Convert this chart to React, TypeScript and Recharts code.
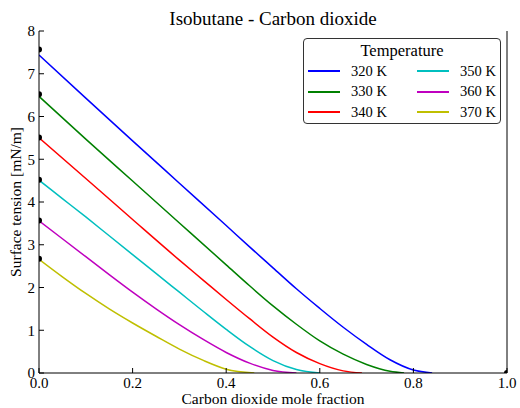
import {
  ComposedChart,
  Line,
  Scatter,
  XAxis,
  YAxis,
  Legend,
} from 'recharts'

// mole fraction of CO2 / surface tension [mN/m]
const x320 = [0, 0.1, 0.2, 0.3, 0.4, 0.45, 0.5, 0.55, 0.6, 0.65, 0.7, 0.75, 0.8, 0.84]
const t320 = [7.44, 6.43, 5.43, 4.44, 3.45, 2.95, 2.46, 1.97, 1.51, 1.07, 0.67, 0.31, 0.07, 0]

const x330 = [0, 0.1, 0.2, 0.3, 0.4, 0.45, 0.5, 0.55, 0.6, 0.65, 0.7, 0.75, 0.78]
const t330 = [6.47, 5.47, 4.49, 3.51, 2.53, 2.04, 1.57, 1.14, 0.75, 0.44, 0.2, 0.04, 0]

const x340 = [0, 0.1, 0.2, 0.3, 0.35, 0.4, 0.45, 0.5, 0.55, 0.6, 0.65, 0.69]
const t340 = [5.5, 4.55, 3.59, 2.64, 2.18, 1.72, 1.27, 0.84, 0.48, 0.22, 0.05, 0]

const x350 = [0, 0.05, 0.1, 0.15, 0.2, 0.25, 0.3, 0.35, 0.4, 0.45, 0.5, 0.55, 0.6]
const t350 = [4.51, 4.08, 3.65, 3.21, 2.77, 2.33, 1.89, 1.45, 1.02, 0.62, 0.29, 0.08, 0]

const x360 = [0, 0.05, 0.1, 0.15, 0.2, 0.25, 0.3, 0.35, 0.4, 0.45, 0.5, 0.55]
const t360 = [3.56, 3.14, 2.72, 2.3, 1.89, 1.5, 1.13, 0.79, 0.48, 0.23, 0.06, 0]

const x370 = [0, 0.05, 0.1, 0.15, 0.2, 0.25, 0.3, 0.35, 0.4, 0.46]
const t370 = [2.66, 2.25, 1.86, 1.5, 1.17, 0.86, 0.56, 0.3, 0.09, 0]

// pure-component points (black dots)
const pureX = [0, 0, 0, 0, 0, 0, 1]
const pureY = [7.57, 6.52, 5.51, 4.52, 3.57, 2.67, 0]

const xTicks = [0, 0.2, 0.4, 0.6, 0.8, 1]
const yTicks = [0, 1, 2, 3, 4, 5, 6, 7, 8]

const series = [
  { name: '320 K', color: '#0000ff', xs: x320, ys: t320 },
  { name: '330 K', color: '#008000', xs: x330, ys: t330 },
  { name: '340 K', color: '#ff0000', xs: x340, ys: t340 },
  { name: '350 K', color: '#00bfbf', xs: x350, ys: t350 },
  { name: '360 K', color: '#bf00bf', xs: x360, ys: t360 },
  { name: '370 K', color: '#bfbf00', xs: x370, ys: t370 },
]

const FONT = '"Liberation Serif", "Times New Roman", serif'

const toPoints = (xs: number[], ys: number[]) => xs.map((x, i) => ({ x, y: ys[i] }))

function TemperatureLegend() {
  return (
    <div
      style={{
        boxSizing: 'border-box',
        width: 198,
        height: 86,
        border: '1.3px solid #333',
        borderRadius: 4,
        background: '#fff',
        fontFamily: FONT,
        fontSize: 14.5,
        color: '#000',
        paddingTop: 2,
      }}
    >
      <div style={{ textAlign: 'center', lineHeight: '20px', fontSize: 16.5 }}>Temperature</div>
      <div
        style={{
          display: 'grid',
          gridTemplateRows: 'repeat(3, 20.5px)',
          gridAutoFlow: 'column',
          gridTemplateColumns: '109px 89px',
        }}
      >
        {series.map((s) => (
          <div key={s.name} style={{ display: 'flex', alignItems: 'center' }}>
            <div
              style={{
                width: 32,
                height: 2,
                background: s.color,
                marginLeft: 4,
                marginRight: 11,
              }}
            />
            <span>{s.name}</span>
          </div>
        ))}
      </div>
    </div>
  )
}

export default function App() {
  const tickStyle = { fontSize: 15, fontFamily: FONT, fill: '#000' }
  return (
    <div style={{ position: 'absolute', left: 0, top: 0, width: 520, height: 408, background: '#fff' }}>
      <div
        style={{
          position: 'absolute',
          left: 39,
          width: 468,
          top: 9,
          textAlign: 'center',
          fontFamily: FONT,
          fontSize: 19,
          lineHeight: '19px',
          color: '#000',
        }}
      >
        Isobutane - Carbon dioxide
      </div>
      <ComposedChart width={520} height={408} margin={{ top: 31, right: 0, bottom: 0, left: 0 }}>
        <XAxis
          xAxisId="b"
          dataKey="x"
          type="number"
          domain={[0, 1]}
          ticks={xTicks}
          interval={0}
          allowDataOverflow
          height={35}
          tickSize={-5}
          tickMargin={9}
          tick={tickStyle}
          tickFormatter={(v: number) => v.toFixed(1)}
          axisLine={{ stroke: '#000' }}
          tickLine={{ stroke: '#000' }}
          label={{
            value: 'Carbon dioxide mole fraction',
            position: 'insideBottom',
            offset: 4,
            style: { fontSize: 15.5, fontFamily: FONT, fill: '#000' },
          }}
        />
        <XAxis
          xAxisId="top"
          orientation="top"
          type="number"
          domain={[0, 1]}
          ticks={xTicks}
          interval={0}
          height={0}
          tickSize={-5}
          tickFormatter={() => ''}
          axisLine={{ stroke: '#000' }}
          tickLine={{ stroke: '#000' }}
        />
        <YAxis
          yAxisId="l"
          dataKey="y"
          type="number"
          domain={[0, 8]}
          ticks={yTicks}
          interval={0}
          allowDataOverflow
          width={39}
          tickSize={-5}
          tickMargin={9}
          tick={tickStyle}
          axisLine={{ stroke: '#000' }}
          tickLine={{ stroke: '#000' }}
          label={{
            value: 'Surface tension [mN/m]',
            angle: -90,
            position: 'insideLeft',
            offset: 15,
            style: { fontSize: 15.5, fontFamily: FONT, fill: '#000', textAnchor: 'middle' },
          }}
        />
        <YAxis
          yAxisId="right"
          orientation="right"
          type="number"
          domain={[0, 8]}
          ticks={yTicks}
          interval={0}
          width={13}
          tickSize={-5}
          tickFormatter={() => ''}
          axisLine={{ stroke: '#000' }}
          tickLine={{ stroke: '#000' }}
        />
        {series.map((s) => (
          <Line
            key={s.name}
            xAxisId="b"
            yAxisId="l"
            data={toPoints(s.xs, s.ys)}
            dataKey="y"
            name={s.name}
            type="monotone"
            stroke={s.color}
            strokeWidth={1.5}
            dot={false}
            activeDot={false}
            isAnimationActive={false}
          />
        ))}
        <Scatter
          xAxisId="b"
          yAxisId="l"
          data={toPoints(pureX, pureY)}
          dataKey="y"
          fill="#000"
          shape={(p: { cx?: number; cy?: number }) => <circle cx={p.cx} cy={p.cy} r={3} fill="#000" />}
          legendType="none"
          isAnimationActive={false}
        />
        <Legend
          layout="vertical"
          align="center"
          verticalAlign="middle"
          wrapperStyle={{ position: 'absolute', left: 303, top: 38, width: 198 }}
          content={() => <TemperatureLegend />}
        />
      </ComposedChart>
    </div>
  )
}
